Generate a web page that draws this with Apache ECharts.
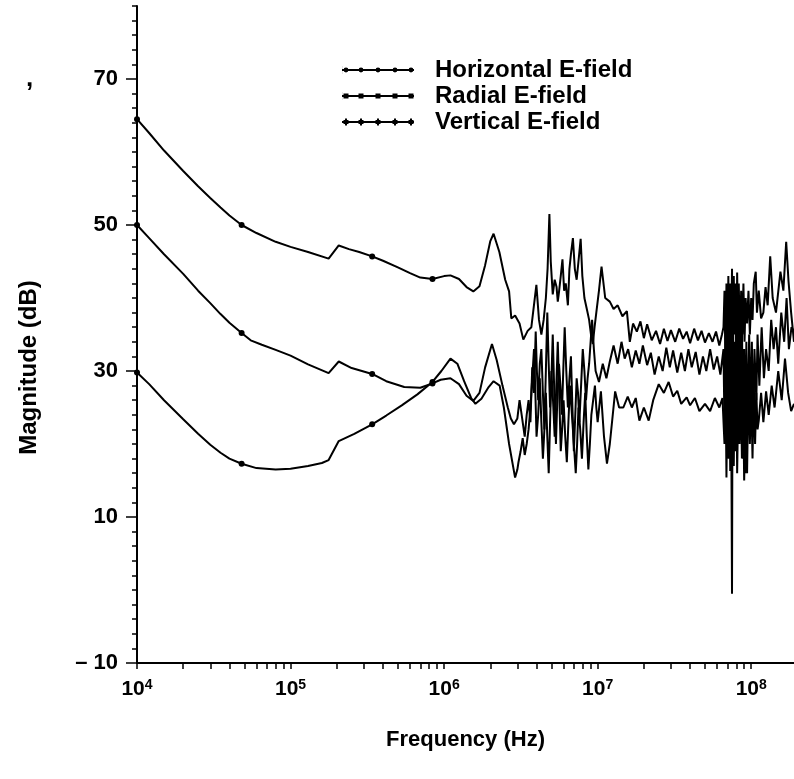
<!DOCTYPE html>
<html><head><meta charset="utf-8">
<script src="https://cdn.jsdelivr.net/npm/echarts@6/dist/echarts.min.js"></script>
<style>html,body{margin:0;padding:0;background:#fff}#c{width:794px;height:779px}</style>
</head><body><div id="c"></div>
<script>
const seriesNames = ['Horizontal E-field', 'Radial E-field', 'Vertical E-field'];
const markerFreqs = [1e4, 4.8e4, 3.4e5, 8.4e5];

const horizontal = [
 [1e4,64.5],[1.2e4,62.6],[1.5e4,60.2],[2e4,57.4],[2.5e4,55.3],[3e4,53.7],[3.5e4,52.4],[4e4,51.3],[4.8e4,50.0],
 [6e4,48.9],[8e4,47.7],[1e5,47.0],[1.3e5,46.3],[1.77e5,45.4],[2.06e5,47.2],[2.4e5,46.7],[2.8e5,46.3],[3.4e5,45.7],
 [4e5,45.1],[5e5,44.2],[6e5,43.4],[7e5,42.8],[8.4e5,42.6],[1e6,43.0],[1.1e6,43.1],[1.25e6,42.6],[1.4e6,41.5],
 [1.55e6,40.9],[1.7e6,41.6],[1.85e6,44.5],[2.0e6,47.8],[2.1e6,48.8],[2.29e6,46.3],[2.5e6,42.5],[2.65e6,40.9],
 [2.74e6,37.2],[2.9e6,37.6],[3.1e6,36.5],[3.28e6,34.3],[3.5e6,35.5],[3.7e6,36.0],[3.99e6,41.8],[4.15e6,37],
 [4.3e6,35.0],[4.45e6,37],[4.6e6,40.0],[4.72e6,44],[4.85e6,51.5],[4.95e6,45],[5.1e6,40.5],[5.25e6,42.5],
 [5.4e6,41.5],[5.5e6,39.5],[5.6e6,40.8],[5.75e6,43],[5.9e6,45.3],[6.05e6,41],[6.2e6,42.0],[6.4e6,39],[6.55e6,44.0],
 [6.7e6,46],[6.9e6,48.2],[7.1e6,44],[7.3e6,42.5],[7.5e6,45],[7.75e6,48.1],[7.95e6,43],[8.2e6,40.0],[8.5e6,38.5],
 [8.8e6,37.0],[9.05e6,35],[9.3e6,33.7],[9.55e6,36],[9.8e6,38.0],[1.02e7,41],[1.06e7,44.3],
 [1.12e7,40.0],[1.2e7,39.5],[1.27e7,38.5],[1.35e7,39.0],[1.45e7,37.5],[1.55e7,38.2],[1.62e7,34.0],[1.7e7,36.5],
 [1.8e7,35.4],[1.9e7,36.8],[2.0e7,34.5],[2.1e7,36.4],[2.25e7,34.2],[2.4e7,35.5],[2.55e7,33.7],[2.7e7,35.8],
 [2.85e7,34.1],[3.0e7,35.6],[3.2e7,34.0],[3.4e7,35.8],[3.6e7,34.4],[3.8e7,35.4],[4.0e7,33.8],[4.25e7,35.8],
 [4.5e7,34.2],[4.75e7,35.5],[5.0e7,33.9],[5.3e7,35.2],[5.6e7,34.0],[5.9e7,35.4],[6.2e7,33.5],[6.45e7,35.0],
 [6.6e7,36],[6.7e7,41],[6.8e7,31],[6.9e7,42],[7.0e7,33],[7.1e7,43],[7.2e7,29],[7.3e7,42],[7.4e7,34],[7.5e7,44],
 [7.6e7,30],[7.7e7,43],[7.8e7,35],[7.9e7,42],[8.0e7,31],[8.1e7,43.5],[8.2e7,36],[8.3e7,42],[8.45e7,33],[8.6e7,41],
 [8.75e7,35],[8.9e7,42],[9.05e7,34],[9.2e7,40],[9.4e7,36.5],[9.6e7,41],[9.8e7,35],[1.0e8,40],[1.02e8,37],
 [1.04e8,42],[1.07e8,43.6],[1.09e8,38],[1.12e8,41],[1.14e8,40.9],[1.16e8,37.2],[1.2e8,38],[1.24e8,41.5],
 [1.28e8,39],[1.33e8,45.7],[1.38e8,40],[1.45e8,38],[1.55e8,43.6],[1.62e8,41],[1.69e8,47.7],[1.75e8,42.3],
 [1.82e8,38],[1.9e8,34]
];

const radial = [
 [1e4,50.0],[1.2e4,48.2],[1.5e4,46.0],[2e4,43.3],[2.5e4,41.0],[3e4,39.3],[3.5e4,37.8],[4e4,36.6],[4.8e4,35.2],
 [5.5e4,34.2],[6.5e4,33.6],[8e4,32.9],[1e5,32.1],[1.3e5,30.9],[1.77e5,29.7],[2.06e5,31.3],[2.5e5,30.4],[3.4e5,29.6],
 [4.2e5,28.6],[5.5e5,27.8],[7e5,27.7],[8.4e5,28.3],[9.5e5,28.8],[1.1e6,29.0],[1.25e6,28.2],[1.4e6,26.6],
 [1.55e6,25.9],[1.7e6,27.0],[1.85e6,30.5],[2.05e6,33.7],[2.2e6,31.5],[2.4e6,28],[2.6e6,25],[2.72e6,23.5],
 [2.85e6,22.7],[3.0e6,23.5],[3.1e6,26],[3.2e6,24],[3.35e6,21.0],[3.45e6,24],[3.55e6,26],[3.65e6,23],[3.75e6,30.5],
 [3.85e6,27],[3.95e6,35.4],[4.02e6,30],[4.1e6,26],[4.2e6,31],[4.3e6,33],[4.4e6,27],[4.5e6,22],[4.6e6,30],
 [4.7e6,38],[4.8e6,31],[4.9e6,25],[5.0e6,29],[5.1e6,35],[5.22e6,27],[5.35e6,20],[5.48e6,27],[5.6e6,31],
 [5.72e6,28],[5.85e6,24],[5.97e6,30],[6.1e6,36],[6.25e6,30],[6.4e6,25],[6.55e6,29],[6.7e6,32],[6.85e6,25],
 [7.0e6,19],[7.15e6,24],[7.3e6,29],[7.45e6,27],[7.6e6,23],[7.8e6,28],[8.0e6,33],[8.2e6,30],[8.4e6,26],
 [8.6e6,29],[8.8e6,31],[9.0e6,34],[9.2e6,37],[9.45e6,33],[9.7e6,30],
 [1.02e7,28.5],[1.08e7,31],[1.14e7,29.0],[1.2e7,31.3],[1.27e7,33.5],[1.35e7,31],[1.43e7,34],[1.5e7,31.7],
 [1.58e7,33],[1.67e7,30.5],[1.77e7,32.8],[1.87e7,31],[1.97e7,33.5],[2.1e7,30.8],[2.22e7,32.5],[2.35e7,29.5],
 [2.5e7,32],[2.65e7,30],[2.8e7,33.2],[2.95e7,30.5],[3.1e7,32.8],[3.3e7,29.8],[3.5e7,32.5],[3.7e7,30],[3.9e7,33],
 [4.1e7,30.5],[4.35e7,32.6],[4.6e7,29.5],[4.85e7,32],[5.1e7,30],[5.4e7,33],[5.7e7,30.2],[6.0e7,32],[6.3e7,29.5],
 [6.6e7,33],[6.7e7,22],[6.8e7,36],[6.9e7,20],[7.0e7,34],[7.1e7,18],[7.2e7,37],[7.3e7,21],[7.4e7,35],[7.5e7,17],
 [7.6e7,38],[7.7e7,23],[7.8e7,34],[7.9e7,20],[8.0e7,36],[8.1e7,24],[8.2e7,39],[8.3e7,21],[8.4e7,35],[8.55e7,25],
 [8.7e7,38],[8.85e7,18],[9.0e7,33],[9.15e7,16],[9.3e7,34],[9.5e7,22],[9.7e7,35],[9.9e7,24],[1.01e8,34],
 [1.03e8,22],[1.05e8,33],[1.08e8,26],[1.1e8,35],[1.13e8,28],[1.17e8,36],[1.21e8,29],[1.25e8,33],[1.3e8,30],
 [1.35e8,37],[1.4e8,33],[1.45e8,36],[1.5e8,31],[1.57e8,38],[1.64e8,34],[1.7e8,40],[1.76e8,33],[1.83e8,36],
 [1.9e8,35.4]
];

const vertical = [
 [1e4,29.8],[1.2e4,28.2],[1.5e4,26.0],[2e4,23.4],[2.5e4,21.4],[3e4,19.9],[3.5e4,18.8],[4e4,18.0],[4.8e4,17.3],
 [6e4,16.7],[8e4,16.5],[1e5,16.6],[1.3e5,17.0],[1.6e5,17.4],[1.77e5,17.8],[2.06e5,20.4],[2.6e5,21.4],[3.4e5,22.7],
 [4.2e5,23.9],[5.3e5,25.3],[6.7e5,26.8],[8.4e5,28.5],[9.6e5,30.0],[1.1e6,31.7],[1.22e6,31.0],[1.35e6,28.6],
 [1.5e6,26.3],[1.6e6,25.5],[1.75e6,26.2],[1.95e6,27.8],[2.1e6,28.6],[2.3e6,28.0],[2.45e6,25],[2.65e6,20],
 [2.9e6,15.4],[3.0e6,16.5],[3.05e6,17.5],[3.15e6,19],[3.25e6,20.8],[3.35e6,18.5],[3.45e6,20.0],[3.55e6,22],
 [3.65e6,25],[3.75e6,29],[3.85e6,33],[3.93e6,27],[4.0e6,21],[4.1e6,24],[4.2e6,29],[4.3e6,23],[4.4e6,18],
 [4.5e6,22],[4.6e6,27],[4.7e6,21],[4.8e6,16],[4.9e6,23],[5.0e6,30],[5.12e6,26],[5.25e6,21],[5.38e6,28],
 [5.5e6,34],[5.62e6,27],[5.75e6,19],[5.87e6,22],[6.0e6,26],[6.15e6,21],[6.3e6,17.5],[6.45e6,23],[6.6e6,28],
 [6.75e6,25],[6.9e6,22],[7.05e6,19],[7.2e6,16],[7.35e6,20],[7.5e6,25],[7.7e6,22],[7.9e6,18],[8.1e6,23],
 [8.3e6,27],[8.5e6,21],[8.7e6,16.5],[8.9e6,20],[9.1e6,24],[9.35e6,26],[9.6e6,28],[9.8e6,25],[1.0e7,23],
 [1.05e7,27.2],[1.1e7,21],[1.15e7,17.3],[1.2e7,20],[1.3e7,27.2],[1.38e7,25],[1.47e7,25.0],[1.57e7,26.5],
 [1.67e7,25],[1.77e7,26.3],[1.87e7,23.2],[2.0e7,25],[2.15e7,23.2],[2.3e7,26],[2.5e7,28.2],[2.7e7,27],[2.9e7,28.5],
 [3.1e7,26.5],[3.3e7,27.3],[3.5e7,25.5],[3.8e7,26.4],[4.0e7,25.3],[4.3e7,26.3],[4.6e7,24.5],[5.0e7,25.5],
 [5.4e7,24.5],[5.8e7,26.3],[6.2e7,25],[6.5e7,26.3],
 [6.7e7,20],[6.8e7,30],[6.9e7,15.4],[7.0e7,28],[7.1e7,18],[7.2e7,31],[7.3e7,16.3],[7.4e7,27],[7.5e7,-0.5],
 [7.55e7,25],[7.7e7,17],[7.8e7,29],[7.9e7,19],[8.0e7,31],[8.1e7,16],[8.25e7,27],[8.4e7,20],[8.55e7,30],[8.7e7,18],
 [8.85e7,28],[9.0e7,15],[9.2e7,26],[9.4e7,16],[9.6e7,29],[9.8e7,20],[1.0e8,27],[1.02e8,18],[1.04e8,28],
 [1.06e8,20],[1.08e8,27],[1.1e8,22],[1.12e8,23.2],[1.16e8,27],[1.2e8,23],[1.25e8,27.2],[1.3e8,24],[1.36e8,28],
 [1.42e8,25],[1.5e8,30],[1.58e8,26],[1.66e8,31.7],[1.74e8,27],[1.82e8,24.5],[1.9e8,25.5]
];

const xLabelTicks = [1e4, 1e5, 1e6, 1e7, 1e8];
const xAllTicks = [1e4,2e4,3e4,4e4,5e4,6e4,7e4,8e4,9e4,1e5,2e5,3e5,4e5,5e5,6e5,7e5,8e5,9e5,1e6,2e6,3e6,4e6,5e6,6e6,7e6,8e6,9e6,
  1e7,2e7,3e7,4e7,5e7,6e7,7e7,8e7,9e7,1e8];
const yLabelTicks = [-10, 10, 30, 50, 70];
const yAllTicks = [-10,-8,-6,-4,-2,0,2,4,6,8,10,12,14,16,18,20,22,24,26,28,30,32,34,36,38,40,42,44,46,48,50,52,54,56,58,60,62,64,66,68,70,72,74,76,78,80];

const FONT = '"Liberation Sans", Arial, Helvetica, sans-serif';
const chart = echarts.init(document.getElementById('c'), null, {renderer: 'canvas'});

const iconDots = 'path://M0,3H72V5H0Z M1.6,4a2.4,2.4 0 1,1 4.8,0a2.4,2.4 0 1,1 -4.8,0Z M16.6,4a2.4,2.4 0 1,1 4.8,0a2.4,2.4 0 1,1 -4.8,0Z M33.6,4a2.4,2.4 0 1,1 4.8,0a2.4,2.4 0 1,1 -4.8,0Z M50.6,4a2.4,2.4 0 1,1 4.8,0a2.4,2.4 0 1,1 -4.8,0Z M66.6,4a2.4,2.4 0 1,1 4.8,0a2.4,2.4 0 1,1 -4.8,0Z M0,0h0.1v8h-0.1Z';
const iconDots2 = 'path://M0,3H72V5H0Z M1.5,1.5h5v5h-5Z M16.5,1.5h5v5h-5Z M33.5,1.5h5v5h-5Z M50.5,1.5h5v5h-5Z M66.5,1.5h5v5h-5Z M0,0h0.1v8h-0.1Z';
const iconStars = 'path://M0,3H72V5H0Z M3,0.5h2v7h-2Z M1.5,2h5v4h-5Z M18,0.5h2v7h-2Z M16.5,2h5v4h-5Z M35,0.5h2v7h-2Z M33.5,2h5v4h-5Z M52,0.5h2v7h-2Z M50.5,2h5v4h-5Z M68,0.5h2v7h-2Z M66.5,2h5v4h-5Z';

function mkSeries(name, data) {
  return {
    name: name, type: 'line', data: data, smooth: false,
    showSymbol: true, showAllSymbol: true, symbol: 'circle',
    symbolSize: function (v) { return markerFreqs.indexOf(v[0]) >= 0 ? 6 : 0; },
    itemStyle: {color: '#000'},
    lineStyle: {color: '#000', width: 2},
    emphasis: {disabled: true}, silent: true
  };
}

chart.setOption({
  animation: false,
  backgroundColor: '#fff',
  textStyle: {fontFamily: FONT, color: '#000'},
  grid: {left: 137, right: 0, top: 6, bottom: 116, containLabel: false},
  legend: {
    orient: 'vertical', left: 342, top: 58, padding: 0, itemWidth: 72, itemHeight: 8, itemGap: 2,
    textStyle: {fontFamily: FONT, fontSize: 24, fontWeight: 'bold', color: '#000', padding: [0, 0, 0, 16]},
    data: [
      {name: seriesNames[0], icon: iconDots},
      {name: seriesNames[1], icon: iconDots2},
      {name: seriesNames[2], icon: iconStars}
    ],
    selectedMode: false
  },
  xAxis: {
    type: 'log', logBase: 10, min: 1e4, max: 1.9e8,
    name: 'Frequency (Hz)', nameLocation: 'middle', nameGap: 66,
    nameTextStyle: {fontFamily: FONT, fontSize: 22, fontWeight: 'bold', color: '#000'},
    axisLine: {onZero: false, lineStyle: {color: '#000', width: 2}},
    axisTick: {show: true, customValues: xAllTicks, length: 6, lineStyle: {color: '#000', width: 1.5}},
    minorTick: {show: false},
    splitLine: {show: false},
    axisLabel: {
      customValues: xLabelTicks, margin: 15, color: '#000',
      formatter: function (v) { return '{b|10}{s|' + Math.round(Math.log10(v)) + '}'; },
      rich: {
        b: {fontFamily: FONT, fontSize: 21, fontWeight: 'bold', color: '#000', lineHeight: 22, verticalAlign: 'bottom'},
        s: {fontFamily: FONT, fontSize: 14, fontWeight: 'bold', color: '#000', lineHeight: 14, verticalAlign: 'top', padding: [0, 0, 10, 0]}
      }
    }
  },
  yAxis: [{
    type: 'value', min: -10, max: 80, interval: 10,
    name: 'Magnitude (dB)', nameLocation: 'middle', nameGap: 96, nameRotate: 90,
    nameTextStyle: {fontFamily: FONT, fontSize: 24, fontWeight: 'bold', color: '#000', padding: [0, 66, 0, 0]},
    axisLine: {show: true, onZero: false, lineStyle: {color: '#000', width: 2}},
    axisTick: {show: true, customValues: yAllTicks, length: 5, lineStyle: {color: '#000', width: 1.5}},
    splitLine: {show: false},
    axisLabel: {customValues: yLabelTicks, margin: 19, fontFamily: FONT, fontSize: 22, fontWeight: 'bold', color: '#000',
      formatter: function (v) { return v < 0 ? '\u2013 ' + Math.abs(v) : String(v); }}
  }, {
    type: 'value', min: -10, max: 80, interval: 10, position: 'left',
    axisLine: {show: false},
    axisTick: {show: true, customValues: yLabelTicks, length: 11, lineStyle: {color: '#000', width: 1.5}},
    axisLabel: {show: false}, splitLine: {show: false}
  }],
  graphic: [{type: 'text', left: 26, top: 66, style: {text: ',', fontFamily: FONT, fontSize: 26, fontWeight: 'bold', fill: '#000'}}],
  series: [
    mkSeries(seriesNames[0], horizontal),
    mkSeries(seriesNames[1], radial),
    mkSeries(seriesNames[2], vertical)
  ]
});
</script>
</body></html>
